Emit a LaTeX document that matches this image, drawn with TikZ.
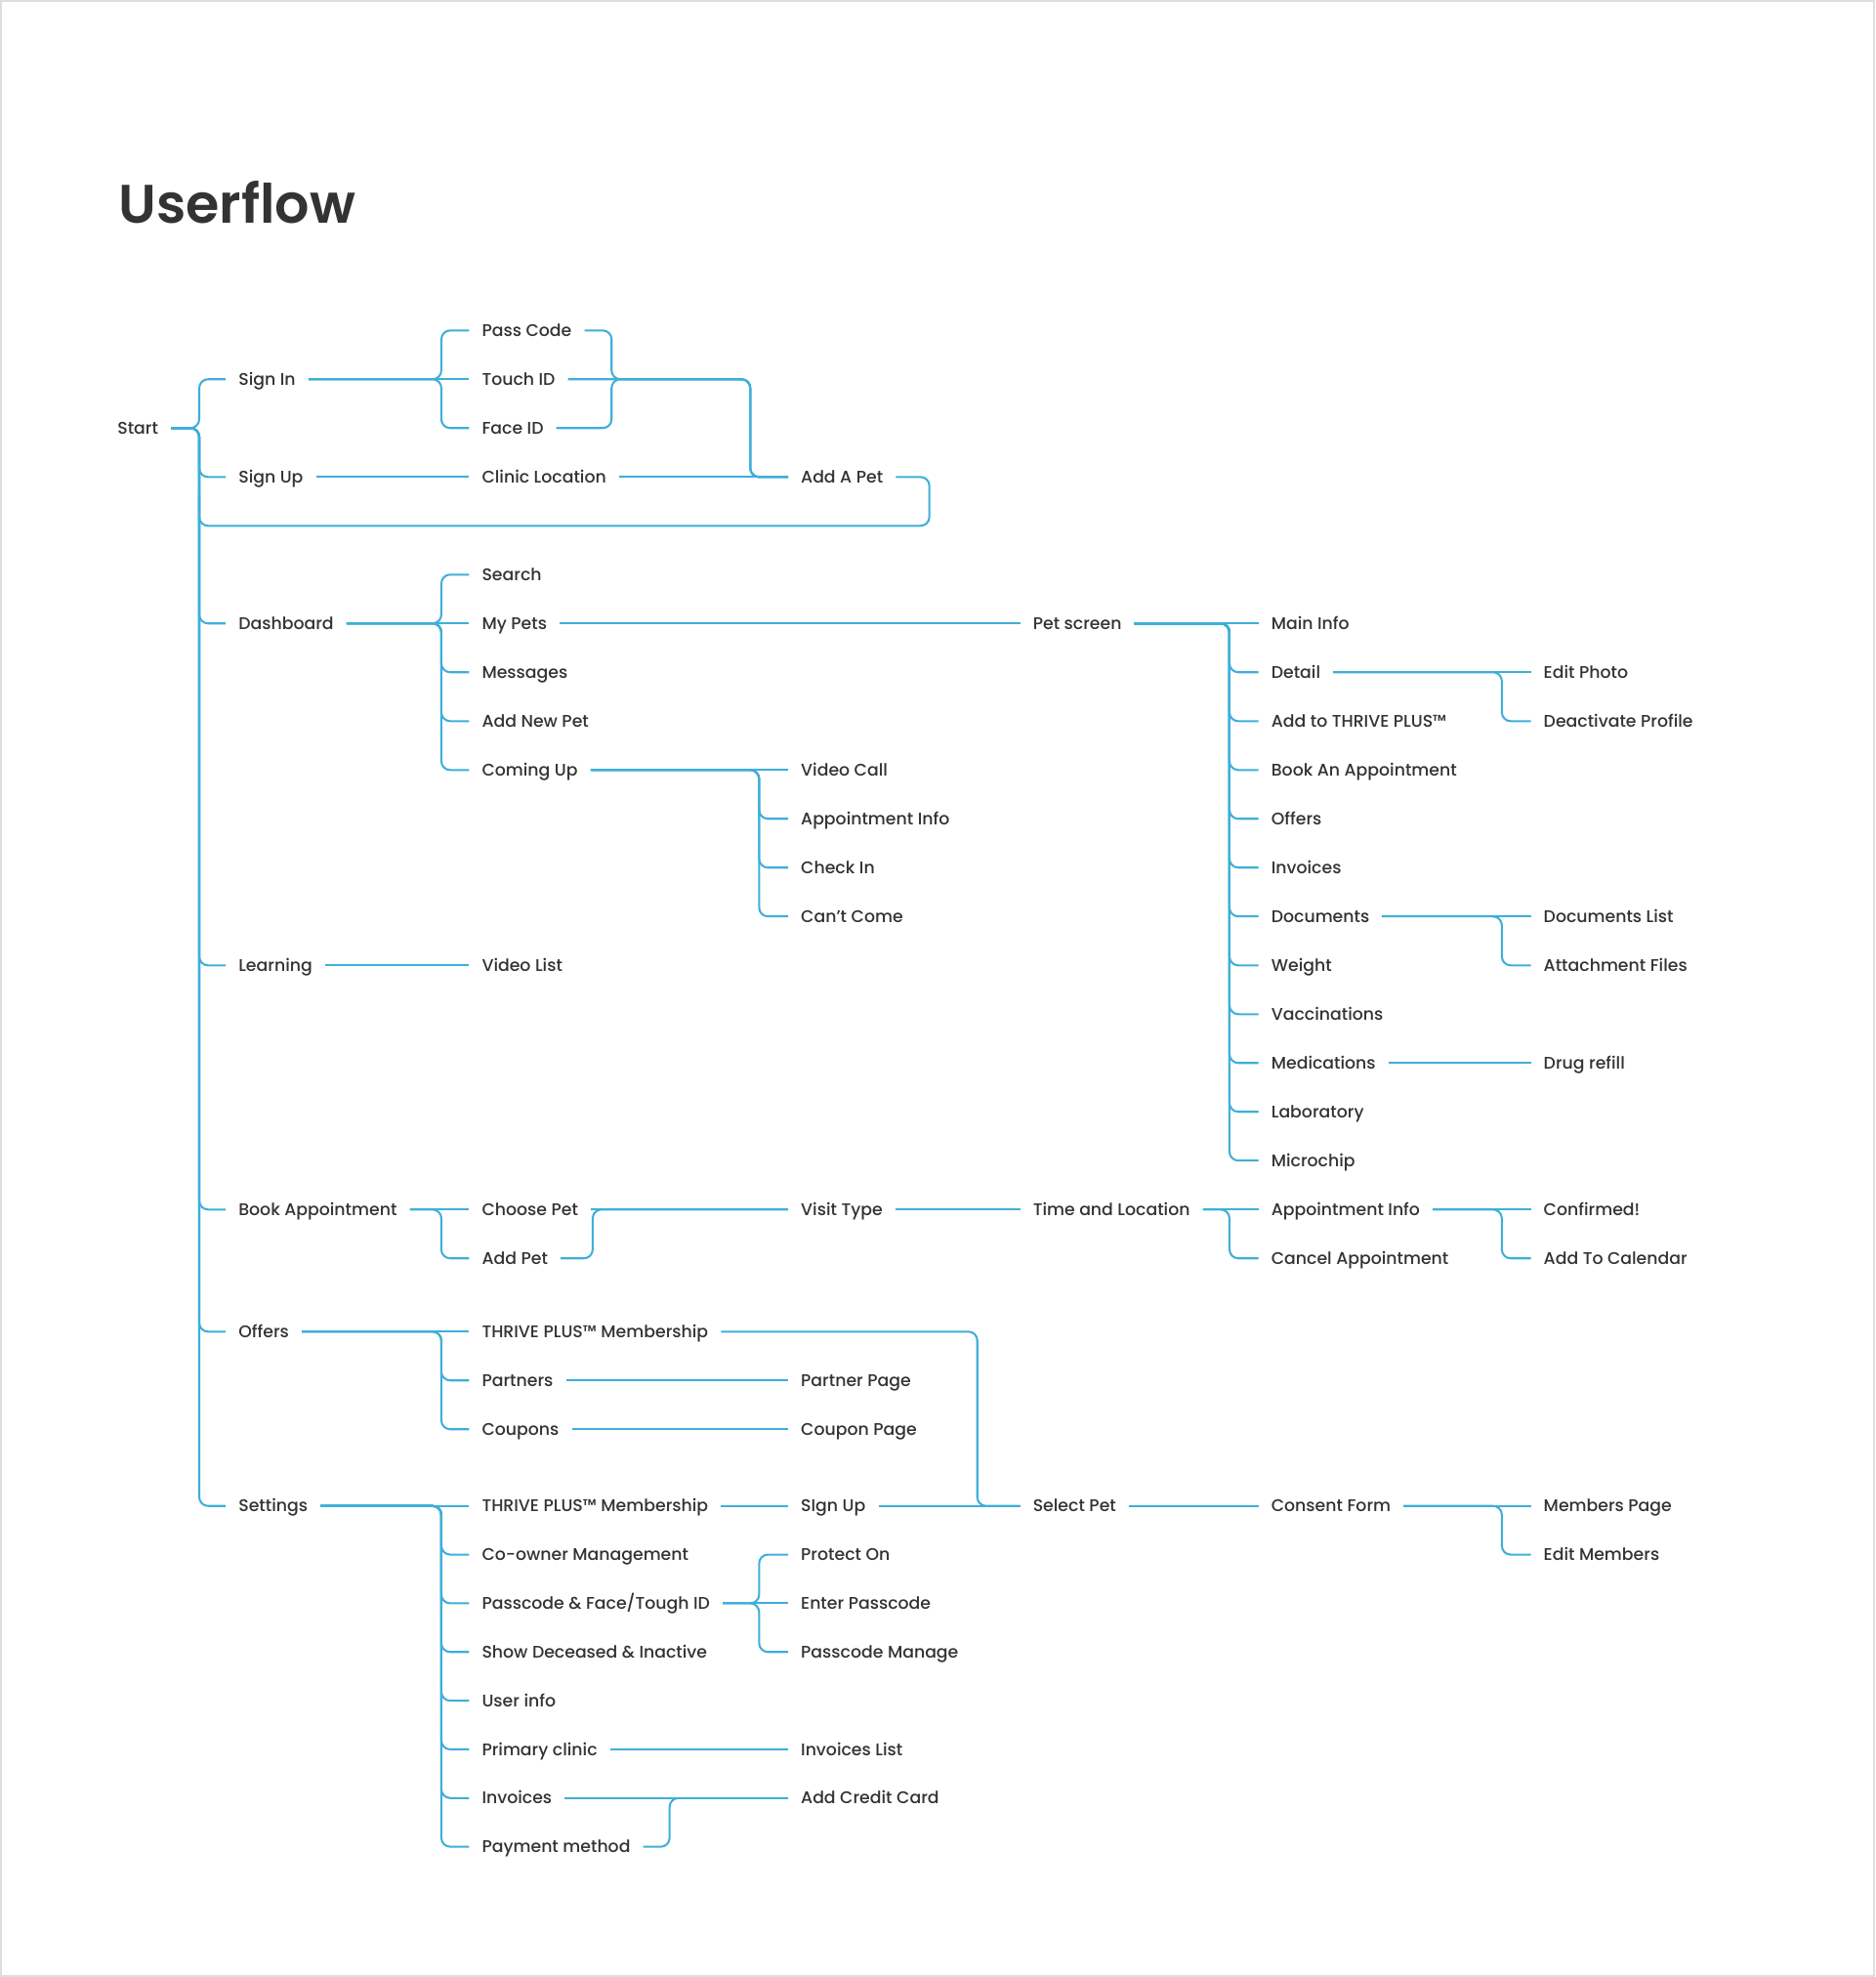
\documentclass[tikz,border=0pt]{standalone}
\usepackage{fontspec}
\setmainfont{Poppins}
\IfFontExistsTF{Poppins Medium}{\newfontfamily\lblfont{Poppins Medium}}{\newfontfamily\lblfont{Poppins}}
\IfFontExistsTF{Poppins SemiBold}{\newfontfamily\headfont{Poppins SemiBold}}{\newfontfamily\headfont{Poppins}[FakeBold=0]}
\definecolor{flowblue}{HTML}{3FAFD8}
\definecolor{ink}{HTML}{333333}
\tikzset{
  lbl/.style={anchor=west, xshift=-10pt, inner xsep=10pt, inner ysep=0pt,
    text height=11pt, text depth=1.5pt, font=\lblfont\fontsize{13.4}{15}\selectfont, text=ink},
  heading/.style={anchor=base west, inner sep=0pt, font=\headfont\fontsize{43}{48}\selectfont, text=ink},
  flow/.style={draw=flowblue, line width=1.6pt, rounded corners=7pt},
  frame/.style={draw=black!13, line width=1.5pt},
}
\newcommand{\branch}[3]{\draw[flow] (#1.east) -- (#2 |- #1.east) |- (#3.west);}

\begin{document}
\begin{tikzpicture}[x=1pt,y=-1pt]
\useasboundingbox (0,0) rectangle (1487,1567.5);
\draw[frame] (0.75,0.75) rectangle (1486.25,1566.75);

% trunks and merge points
\coordinate (tA) at (158,0);
\coordinate (tB) at (350,0);
\coordinate (tC) at (602,0);
\coordinate (tE) at (975,0);
\coordinate (tF) at (1191,0);
\coordinate (mA) at (485,0);
\coordinate (mB) at (595,0);
\coordinate (mC) at (470,0);
\coordinate (mD) at (775,0);
\coordinate (mE) at (531,0);
\coordinate (loop) at (737,416.9);

\node[heading] (head) at (94,177) {Userflow};

%Start
\node[lbl] (start) at (93,339.4) {Start};
\node[lbl] (signin) at (189,300.7) {Sign In};
\node[lbl] (signup) at (189,378.2) {Sign Up};
\node[lbl] (dash) at (189,494.3) {Dashboard};
\node[lbl] (learn) at (189,765.4) {Learning};
\node[lbl] (book) at (189,959.0) {Book Appointment};
\node[lbl] (offers) at (189,1055.8) {Offers};
\node[lbl] (settings) at (189,1194.0) {Settings};

\foreach \c in {signin,signup,dash,learn,book,offers,settings} {\branch{start}{tA}{\c}}

%Sign in / Sign up
\node[lbl] (pass) at (382,262.0) {Pass Code};
\node[lbl] (touch) at (382,300.7) {Touch ID};
\node[lbl] (faceid) at (382,339.4) {Face ID};
\node[lbl] (clinic) at (382,378.2) {Clinic Location};
\node[lbl] (addpet) at (635,378.2) {Add A Pet};

\draw[flow] (signin.east) -- (touch.west);
\branch{signin}{tB}{pass}
\branch{signin}{tB}{faceid}
\draw[flow] (signup.east) -- (clinic.west);
\draw[flow] (pass.east) -| (mA |- touch.east) -- (mB |- touch.east) |- (addpet.west);
\draw[flow] (faceid.east) -| (mA |- touch.east) -- (mB |- touch.east) |- (addpet.west);
\draw[flow] (touch.east) -- (mB |- touch.east) |- (addpet.west);
\draw[flow] (clinic.east) -- (addpet.west);
\draw[flow] (addpet.east) -| (loop) -- (tA |- loop) -- ++(0,-25);

%Dashboard
\node[lbl] (search) at (382,455.6) {Search};
\node[lbl] (mypets) at (382,494.3) {My Pets};
\node[lbl] (messages) at (382,533.0) {Messages};
\node[lbl] (addnew) at (382,571.8) {Add New Pet};
\node[lbl] (coming) at (382,610.5) {Coming Up};

\draw[flow] (dash.east) -- (mypets.west);
\foreach \c in {search,messages,addnew,coming} {\branch{dash}{tB}{\c}}

\node[lbl] (videocall) at (635,610.5) {Video Call};
\node[lbl] (apptinfo) at (635,649.2) {Appointment Info};
\node[lbl] (checkin) at (635,687.9) {Check In};
\node[lbl] (cantcome) at (635,726.6) {Can’t Come};

\draw[flow] (coming.east) -- (videocall.west);
\foreach \c in {apptinfo,checkin,cantcome} {\branch{coming}{tC}{\c}}

%Pet screen
\node[lbl] (petscreen) at (819,494.3) {Pet screen};
\draw[flow] (mypets.east) -- (petscreen.west);

\node[lbl] (main) at (1008,494.3) {Main Info};
\node[lbl] (detail) at (1008,533.0) {Detail};
\node[lbl] (addthrive) at (1008,571.8) {Add to THRIVE PLUS™};
\node[lbl] (bookappt) at (1008,610.5) {Book An Appointment};
\node[lbl] (petoffers) at (1008,649.2) {Offers};
\node[lbl] (petinvoices) at (1008,687.9) {Invoices};
\node[lbl] (docs) at (1008,726.6) {Documents};
\node[lbl] (weight) at (1008,765.4) {Weight};
\node[lbl] (vacc) at (1008,804.1) {Vaccinations};
\node[lbl] (meds) at (1008,842.8) {Medications};
\node[lbl] (lab) at (1008,881.5) {Laboratory};
\node[lbl] (chip) at (1008,920.2) {Microchip};

\draw[flow] (petscreen.east) -- (main.west);
\foreach \c in {detail,addthrive,bookappt,petoffers,petinvoices,docs,weight,vacc,meds,lab,chip} {\branch{petscreen}{tE}{\c}}

\node[lbl] (editphoto) at (1224,533.0) {Edit Photo};
\node[lbl] (deactivate) at (1224,571.8) {Deactivate Profile};
\node[lbl] (doclist) at (1224,726.6) {Documents List};
\node[lbl] (attach) at (1224,765.4) {Attachment Files};
\node[lbl] (drug) at (1224,842.8) {Drug refill};

\draw[flow] (detail.east) -- (editphoto.west);
\branch{detail}{tF}{deactivate}
\draw[flow] (docs.east) -- (doclist.west);
\branch{docs}{tF}{attach}
\draw[flow] (meds.east) -- (drug.west);

%Learning
\node[lbl] (videolist) at (382,765.4) {Video List};
\draw[flow] (learn.east) -- (videolist.west);

%Book Appointment
\node[lbl] (choose) at (382,959.0) {Choose Pet};
\node[lbl] (addpetb) at (382,997.7) {Add Pet};
\node[lbl] (visit) at (635,959.0) {Visit Type};
\node[lbl] (timeloc) at (819,959.0) {Time and Location};
\node[lbl] (apptinfob) at (1008,959.0) {Appointment Info};
\node[lbl] (cancel) at (1008,997.7) {Cancel Appointment};
\node[lbl] (confirmed) at (1224,959.0) {Confirmed!};
\node[lbl] (calendar) at (1224,997.7) {Add To Calendar};

\draw[flow] (book.east) -- (choose.west);
\branch{book}{tB}{addpetb}
\draw[flow] (choose.east) -- (visit.west);
\draw[flow] (addpetb.east) -| (mC |- visit.west) -- (visit.west);
\draw[flow] (visit.east) -- (timeloc.west);
\draw[flow] (timeloc.east) -- (apptinfob.west);
\branch{timeloc}{tE}{cancel}
\draw[flow] (apptinfob.east) -- (confirmed.west);
\branch{apptinfob}{tF}{calendar}

%Offers
\node[lbl] (thrivea) at (382,1055.8) {THRIVE PLUS™ Membership};
\node[lbl] (partners) at (382,1094.5) {Partners};
\node[lbl] (coupons) at (382,1133.2) {Coupons};
\node[lbl] (partnerpage) at (635,1094.5) {Partner Page};
\node[lbl] (couponpage) at (635,1133.2) {Coupon Page};

\draw[flow] (offers.east) -- (thrivea.west);
\branch{offers}{tB}{partners}
\branch{offers}{tB}{coupons}
\draw[flow] (partners.east) -- (partnerpage.west);
\draw[flow] (coupons.east) -- (couponpage.west);

%Settings
\node[lbl] (thriveb) at (382,1194.0) {THRIVE PLUS™ Membership};
\node[lbl] (coowner) at (382,1232.6) {Co-owner Management};
\node[lbl] (passface) at (382,1271.2) {Passcode \& Face/Tough ID};
\node[lbl] (showdec) at (382,1309.8) {Show Deceased \& Inactive};
\node[lbl] (userinfo) at (382,1348.4) {User info};
\node[lbl] (primary) at (382,1387.0) {Primary clinic};
\node[lbl] (invoices) at (382,1425.6) {Invoices};
\node[lbl] (payment) at (382,1464.2) {Payment method};

\draw[flow] (settings.east) -- (thriveb.west);
\foreach \c in {coowner,passface,showdec,userinfo,primary,invoices,payment} {\branch{settings}{tB}{\c}}

\node[lbl] (signupb) at (635,1194.0) {SIgn Up};
\node[lbl] (selectpet) at (819,1194.0) {Select Pet};
\node[lbl] (consent) at (1008,1194.0) {Consent Form};
\node[lbl] (members) at (1224,1194.0) {Members Page};
\node[lbl] (editmembers) at (1224,1232.6) {Edit Members};

\draw[flow] (thriveb.east) -- (signupb.west);
\draw[flow] (signupb.east) -- (selectpet.west);
\draw[flow] (thrivea.east) -| (mD |- selectpet.west) -- (selectpet.west);
\draw[flow] (selectpet.east) -- (consent.west);
\draw[flow] (consent.east) -- (members.west);
\branch{consent}{tF}{editmembers}

\node[lbl] (protect) at (635,1232.6) {Protect On};
\node[lbl] (enterpass) at (635,1271.2) {Enter Passcode};
\node[lbl] (passmanage) at (635,1309.8) {Passcode Manage};

\draw[flow] (passface.east) -- (enterpass.west);
\branch{passface}{tC}{protect}
\branch{passface}{tC}{passmanage}

\node[lbl] (invlist) at (635,1387.0) {Invoices List};
\node[lbl] (addcard) at (635,1425.6) {Add Credit Card};

\draw[flow] (primary.east) -- (invlist.west);
\draw[flow] (invoices.east) -- (addcard.west);
\draw[flow] (payment.east) -| (mE |- addcard.west) -- (addcard.west);

\end{tikzpicture}
\end{document}
